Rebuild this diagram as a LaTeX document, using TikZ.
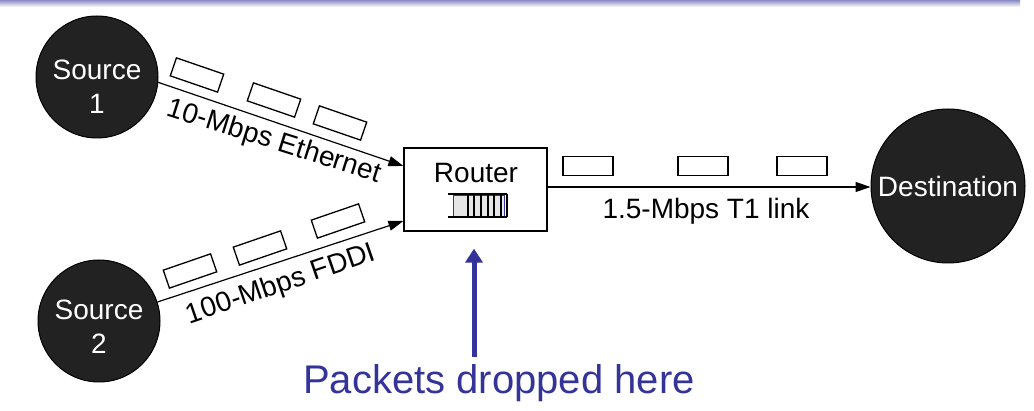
\documentclass[tikz,border=0pt]{standalone}
\usepackage{fontspec}
\setmainfont{Liberation Sans}
\usetikzlibrary{arrows.meta}
\definecolor{hostfill}{HTML}{222222}
\definecolor{dropblue}{HTML}{333399}
\definecolor{barblue}{HTML}{8A8AC4}
\definecolor{qgray}{HTML}{E6E6E6}
\tikzset{
  host/.style={circle, draw=black, line width=1pt, fill=hostfill, inner sep=0pt},
  hosttext/.style={text=white, align=center, font=\fontsize{28}{34}\selectfont, inner sep=0pt},
  linklabel/.style={font=\fontsize{28}{34}\selectfont, inner sep=0pt},
  routerbox/.style={draw=black, line width=1.2pt, minimum width=143pt, minimum height=83pt, inner sep=0pt},
  packet/.style={draw=black, line width=1.3pt, minimum width=50pt, minimum height=19pt, inner sep=0pt},
  link/.style={draw=black, line width=1.2pt, -{Triangle[length=15pt,width=10pt]}},
  droparrow/.style={draw=dropblue, line width=5pt, -{Triangle[length=14pt,width=17pt]}},
  droptext/.style={text=dropblue, font=\fontsize{40}{48}\selectfont, inner sep=0pt}
}
\begin{document}
\begin{tikzpicture}[x=1pt, y=-1pt]
\useasboundingbox (0,0) rectangle (1034,411);
% top bar
\shade[top color=barblue, bottom color=white] (0,0) rectangle (1020,7);

% hosts
\node[host, minimum size=122pt] (s1) at (97,77) {};
\node[hosttext] (s1t) at (97,87) {Source\\1};
\node[host, minimum size=122pt] (s2) at (99,321) {};
\node[hosttext] (s2t) at (99,326.5) {Source\\2};
\node[host, minimum size=154pt] (dest) at (948,186) {};
\node[hosttext] (destt) at (948,186) {Destination};

% router
\node[routerbox] (router) at (475.5,189.5) {};
\node[linklabel, anchor=base] (routert) at (476,183) {Router};
% queue
\fill[qgray] (453,195) rectangle (504,217);
\draw[dropblue, line width=0.8pt] (453,195) rectangle (504,217);
\draw[black, line width=1.2pt] (448,194) -- (507,194) (448,217) -- (507,217);
\foreach \qx in {468,474,481,488,494,501,507}
  \draw[black, line width=1.2pt] (\qx,194) -- (\qx,217);

% links
\draw[link] (s1.-5.6) -- ([yshift=23.5pt]router.west);
\draw[link] (s2.18) -- ([yshift=-31.5pt]router.west);
\draw[link] ([yshift=2.5pt]router.east) -- ([yshift=2.5pt]router.east -| dest.west);

% packets on link 1
\node[packet, rotate=-19] (p11) at (197,75) {};
\node[packet, rotate=-19] (p12) at (274,100) {};
\node[packet, rotate=-19] (p13) at (340,123) {};
% packets on link 2
\node[packet, rotate=19] (p21) at (190,271) {};
\node[packet, rotate=19] (p22) at (260,248) {};
\node[packet, rotate=19] (p23) at (338,221) {};
% packets on link 3
\node[packet] (p31) at (588,166) {};
\node[packet] (p32) at (703,166) {};
\node[packet] (p33) at (802,166) {};

% link labels
\node[linklabel, rotate=-17.5] (l1) at (274,142) {10-Mbps Ethernet};
\node[linklabel, rotate=19] (l2) at (281,285) {100-Mbps FDDI};
\node[linklabel] (l3) at (706,211) {1.5-Mbps T1 link};

% drop annotation
\node[droptext] (drop) at (499,383) {Packets dropped here};
\coordinate (droptail) at (474,357);
\draw[droparrow] (droptail) -- ([yshift=-17pt]router.south -| droptail);
\end{tikzpicture}
\end{document}
